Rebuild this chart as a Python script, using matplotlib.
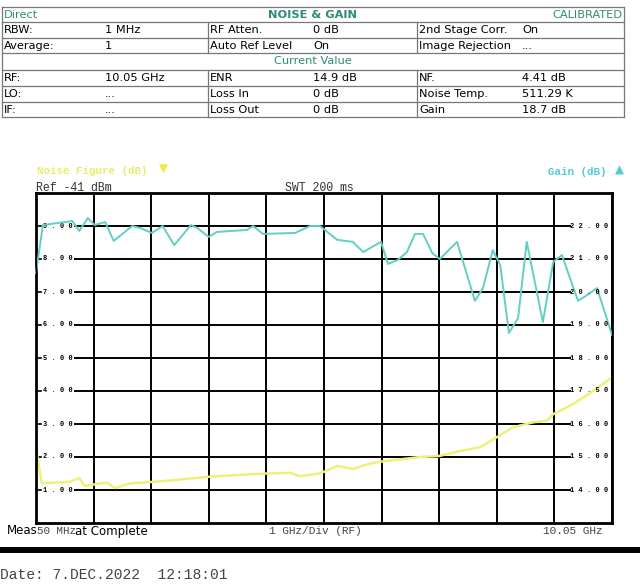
import matplotlib.pyplot as plt

# noise figure trace (GHz, dB)
nf_freq = [0.05, 0.15, 0.64, 0.80, 0.90, 1.16, 1.28, 1.42, 1.68, 2.03, 2.46, 3.04, 3.50,
           4.04, 4.46, 4.63, 4.98, 5.28, 5.55, 5.85, 6.04, 6.72, 7.05, 7.41, 7.76, 8.05,
           8.33, 8.68, 8.92, 9.03, 9.37, 9.72, 10.05]
nf_db = [2.3, 1.2, 1.25, 1.36, 1.12, 1.2, 1.22, 1.06, 1.2, 1.24, 1.3, 1.4, 1.45,
         1.5, 1.52, 1.42, 1.5, 1.73, 1.64, 1.8, 1.86, 2.0, 2.03, 2.18, 2.3, 2.6,
         2.9, 3.05, 3.1, 3.3, 3.6, 4.0, 4.41]

# gain trace (GHz, dB)
gain_freq = [0.05, 0.17, 0.68, 0.80, 0.95, 1.07, 1.25, 1.40, 1.72, 1.86, 2.06, 2.25, 2.45,
             2.74, 2.85, 3.05, 3.19, 3.71, 3.82, 3.99, 4.55, 4.81, 4.98, 5.28, 5.55, 5.73,
             6.04, 6.16, 6.33, 6.49, 6.63, 6.77, 6.93, 7.06, 7.36, 7.67, 7.81, 7.98, 8.11,
             8.26, 8.42, 8.57, 8.85, 9.03, 9.18, 9.46, 9.62, 9.79, 10.05]
gain_db = [20.58, 22.03, 22.15, 21.85, 22.24, 22.03, 22.12, 21.55, 22.0, 21.94, 21.79, 22.0, 21.42,
           22.03, 21.94, 21.67, 21.82, 21.88, 22.0, 21.76, 21.79, 22.0, 22.0, 21.58, 21.52, 21.21,
           21.52, 20.85, 20.97, 21.21, 21.76, 21.76, 21.18, 21.0, 21.52, 19.73, 20.12, 21.27, 20.82,
           18.76, 19.21, 21.52, 19.09, 20.91, 21.12, 19.73, 19.91, 20.12, 18.7]

nf_ticks = [9, 8, 7, 6, 5, 4, 3, 2, 1]
nf_labels = ['9.00', '8.00', '7.00', '6.00', '5.00', '4.00', '3.00', '2.00', '1.00']
gain_ticks = [22, 21, 20, 19, 18, 17, 16, 15, 14]
gain_labels = ['22.00', '21.00', '20.00', '19.00', '18.00', '17.50', '16.00', '15.00', '14.00']

# header table rows: (label, value) x 3 columns
rows_top = [
    [('RBW:', '1 MHz'), ('RF Atten.', '0 dB'), ('2nd Stage Corr.', 'On')],
    [('Average:', '1'), ('Auto Ref Level', 'On'), ('Image Rejection', '...')],
]
rows_cur = [
    [('RF:', '10.05 GHz'), ('ENR', '14.9 dB'), ('NF.', '4.41 dB')],
    [('LO:', '...'), ('Loss In', '0 dB'), ('Noise Temp.', '511.29 K')],
    [('IF:', '...'), ('Loss Out', '0 dB'), ('Gain', '18.7 dB')],
]

TEAL_TXT = '#2f8a78'
YELLOW = '#eef07a'
CYAN = '#62cfc2'
mono = ['Liberation Mono', 'DejaVu Sans Mono']

W, H = 640, 588
fig = plt.figure(figsize=(6.4, 5.88), dpi=100)

# ---------- header table (pixel coords) ----------
hx = fig.add_axes([0, 0, 1, 1])
hx.set_xlim(0, W)
hx.set_ylim(H, 0)
hx.axis('off')

edges = [7, 22, 38, 53, 70, 86, 102, 117]
lc = '#777777'
for y in edges:
    hx.plot([2, 624], [y, y], color=lc, lw=0.9)
hx.plot([2, 2], [7, 117], color=lc, lw=0.9)
hx.plot([624, 624], [7, 117], color=lc, lw=0.9)
for x in [208, 417]:
    hx.plot([x, x], [22, 53], color=lc, lw=0.9)
    hx.plot([x, x], [70, 117], color=lc, lw=0.9)

fs = 8.2
hx.text(4, 14.5, 'Direct', color=TEAL_TXT, fontsize=fs, va='center')
hx.text(313, 14.5, 'NOISE & GAIN', color=TEAL_TXT, fontsize=fs, va='center',
        ha='center', fontweight='bold')
hx.text(622, 14.5, 'CALIBRATED', color=TEAL_TXT, fontsize=fs, va='center', ha='right')
hx.text(313, 61.5, 'Current Value', color=TEAL_TXT, fontsize=fs, va='center', ha='center')

col_x = [(4, 105), (210, 313), (419, 522)]
for rows, tops in [(rows_top, [22, 38]), (rows_cur, [70, 86, 102])]:
    for row, top in zip(rows, tops):
        for (lab, val), (xl, xv) in zip(row, col_x):
            yc = top + 8
            hx.text(xl, yc, lab, fontsize=fs, va='center')
            hx.text(xv, yc, val, fontsize=fs, va='center')

# ---------- trace plot ----------
left, right, top, bottom = 36, 612, 193, 523
ax = fig.add_axes([left / W, 1 - bottom / H, (right - left) / W, (bottom - top) / H])
ax.set_xlim(0.05, 10.05)
ax.set_ylim(0, 10)
ax.set_xticks([0.05 + i for i in range(11)])
ax.set_yticks([])
ax.tick_params(length=0, labelbottom=False)
ax.xaxis.grid(True, color='black', lw=1.4)
for s in ax.spines.values():
    s.set_linewidth(2)

for v, lab in zip(nf_ticks, nf_labels):
    ax.axhline(v, xmin=0.068, xmax=0.927, color='black', lw=1.4)
    ax.axhline(v, xmin=0, xmax=0.008, color='black', lw=1.2)
    ax.text(0.012, v, ' '.join(lab), transform=ax.get_yaxis_transform(), fontsize=5,
            family=mono, fontweight='bold', va='center', ha='left')

ax2 = ax.twinx()
ax2.set_ylim(13, 23)
ax2.set_yticks([])
for g, lab in zip(gain_ticks, gain_labels):
    ax2.text(0.993, g, ' '.join(lab), transform=ax2.get_yaxis_transform(), fontsize=5,
             family=mono, fontweight='bold', va='center', ha='right')

ax2.plot(gain_freq, gain_db, color=CYAN, lw=1.4, clip_on=False)
ax.plot(nf_freq, nf_db, color=YELLOW, lw=1.8, clip_on=False)

# labels around plot
hx.text(37, 171, 'Noise Figure (dB)', color='#e6ef6a', fontsize=7.8, family=mono,
        fontweight='bold', va='center')
hx.text(159, 169, '▼', color='#e6ef40', fontsize=8.5, va='center')
hx.text(548, 172, 'Gain (dB)', color='#52cdd0', fontsize=7.8, family=mono,
        fontweight='bold', va='center')
hx.text(615, 170, '▲', color='#52cdd0', fontsize=8.5, va='center')
hx.text(36, 188, 'Ref -41 dBm', fontsize=8.3, family=mono, va='center', color='#333333')
hx.text(285, 188, 'SWT 200 ms', fontsize=8.3, family=mono, va='center', color='#333333')

hx.text(7, 531, 'Meas', fontsize=8.5, va='center')
hx.text(37, 531, '50 MHz', fontsize=7.8, family=mono, va='center', color='#444444')
hx.text(75, 531, 'at Complete', fontsize=8.5, va='center')
hx.text(315, 531, '1 GHz/Div (RF)', fontsize=8, family=mono, va='center', ha='center',
        color='#444444')
hx.text(603, 531, '10.05 GHz', fontsize=8, family=mono, va='center', ha='right',
        color='#444444')
hx.plot([0, W], [550, 550], color='black', lw=4.3)
hx.text(0, 575, 'Date: 7.DEC.2022  12:18:01', fontsize=10.5, family=mono, va='center',
        color='#444444')

fig.savefig('out.png', dpi=100)
